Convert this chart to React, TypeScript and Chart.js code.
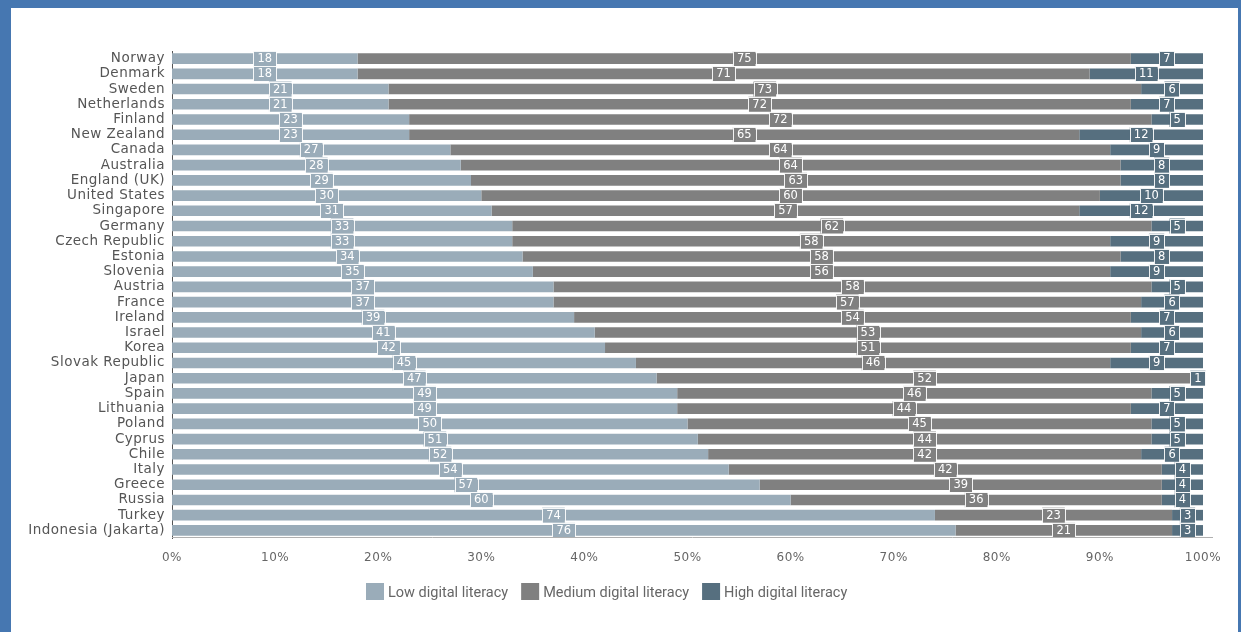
import React, { useEffect, useRef } from "react";
import { Chart, registerables } from "chart.js";

Chart.register(...registerables);

const countries = [
  "Norway", "Denmark", "Sweden", "Netherlands", "Finland", "New Zealand", "Canada",
  "Australia", "England (UK)", "United States", "Singapore", "Germany", "Czech Republic",
  "Estonia", "Slovenia", "Austria", "France", "Ireland", "Israel", "Korea", "Slovak Republic",
  "Japan", "Spain", "Lithuania", "Poland", "Cyprus", "Chile", "Italy", "Greece", "Russia",
  "Turkey", "Indonesia (Jakarta)",
];

const lowLiteracy = [18, 18, 21, 21, 23, 23, 27, 28, 29, 30, 31, 33, 33, 34, 35, 37, 37, 39, 41, 42, 45, 47, 49, 49, 50, 51, 52, 54, 57, 60, 74, 76];
const mediumLiteracy = [75, 71, 73, 72, 72, 65, 64, 64, 63, 60, 57, 62, 58, 58, 56, 58, 57, 54, 53, 51, 46, 52, 46, 44, 45, 44, 42, 42, 39, 36, 23, 21];
const highLiteracy = [7, 11, 6, 7, 5, 12, 9, 8, 8, 10, 12, 5, 9, 8, 9, 5, 6, 7, 6, 7, 9, 1, 5, 7, 5, 5, 6, 4, 4, 4, 3, 3];

const seriesNames = ["Low digital literacy", "Medium digital literacy", "High digital literacy"];
const seriesColors = ["#9aacb9", "#808080", "#566f7f"];

const FONT = "'DejaVu Sans', sans-serif";
const LEGEND_FONT = "Roboto, 'Noto Sans', sans-serif";

// Wider letter spacing for the axis text, switched off again before the bars
const axisTextSpacing = {
  id: "axisTextSpacing",
  beforeDraw(chart: any) {
    chart.ctx.letterSpacing = "0.5px";
  },
  beforeDatasetsDraw(chart: any) {
    chart.ctx.letterSpacing = "0px";
  },
};

// Boxed value labels centred on each segment
const segmentLabels = {
  id: "segmentLabels",
  afterDatasetsDraw(chart: any) {
    const ctx = chart.ctx;
    ctx.save();
    ctx.letterSpacing = "0px";
    ctx.font = `11.5px ${FONT}`;
    ctx.textAlign = "center";
    ctx.textBaseline = "middle";
    chart.data.datasets.forEach((ds: any, di: number) => {
      const meta = chart.getDatasetMeta(di);
      meta.data.forEach((bar: any, i: number) => {
        const v = ds.data[i];
        if (!v) return;
        const cx = (bar.x + bar.base) / 2;
        const cy = bar.y;
        const text = String(v);
        const w = ctx.measureText(text).width + 8;
        const h = 15;
        ctx.fillStyle = ds.backgroundColor;
        ctx.fillRect(cx - w / 2, cy - h / 2, w, h);
        ctx.strokeStyle = "rgba(255,255,255,0.9)";
        ctx.lineWidth = 1;
        ctx.strokeRect(Math.round(cx - w / 2) + 0.5, Math.round(cy - h / 2) + 0.5, Math.round(w), h);
        ctx.fillStyle = "#ffffff";
        ctx.fillText(text, cx, cy + 0.5);
      });
    });
    ctx.restore();
  },
};

// Baseline under the bars and the legend row
const axisAndLegend = {
  id: "axisAndLegend",
  afterDraw(chart: any) {
    const ctx = chart.ctx;
    const area = chart.chartArea;
    ctx.save();
    ctx.letterSpacing = "0px";
    ctx.strokeStyle = "#b0b0b0";
    ctx.lineWidth = 1;
    ctx.beginPath();
    ctx.moveTo(area.left, Math.round(area.bottom) - 0.5);
    ctx.lineTo(area.right + 10, Math.round(area.bottom) - 0.5);
    ctx.stroke();

    ctx.font = `14.5px ${LEGEND_FONT}`;
    ctx.textBaseline = "middle";
    ctx.textAlign = "left";
    const y = 592;
    let x = 366;
    seriesNames.forEach((name, i) => {
      ctx.fillStyle = seriesColors[i];
      ctx.fillRect(x, y - 9, 18, 17);
      ctx.fillStyle = "#666666";
      ctx.fillText(name, x + 22, y + 1);
      x += 22 + ctx.measureText(name).width + 13;
    });
    ctx.restore();
  },
};

export default function App() {
  const canvasRef = useRef<HTMLCanvasElement | null>(null);

  useEffect(() => {
    if (!canvasRef.current) return;
    const chart = new Chart(canvasRef.current, {
      type: "bar",
      data: {
        labels: countries,
        datasets: [lowLiteracy, mediumLiteracy, highLiteracy].map((d, i) => ({
          label: seriesNames[i],
          data: d,
          backgroundColor: seriesColors[i],
          borderWidth: 0,
          categoryPercentage: 1,
          barPercentage: 0.7,
        })),
      },
      options: {
        indexAxis: "y",
        animation: false,
        responsive: false,
        maintainAspectRatio: false,
        layout: { padding: { left: 0, right: 38, top: 51, bottom: 64 } },
        plugins: {
          legend: { display: false },
          tooltip: { enabled: false },
        },
        scales: {
          x: {
            stacked: true,
            min: 0,
            max: 100,
            grid: { display: false, drawTicks: false },
            border: { display: false },
            ticks: {
              stepSize: 10,
              padding: 13,
              color: "#666666",
              font: { family: FONT, size: 12 },
              callback: (v: any) => `${v}%`,
            },
            afterFit: (s: any) => { s.height = 30; },
          },
          y: {
            stacked: true,
            grid: { display: false, drawTicks: false },
            border: { display: true, color: "#555555", width: 1 },
            ticks: {
              padding: 7,
              color: "#555555",
              font: { family: FONT, size: 13.5 },
              autoSkip: false,
            },
            afterFit: (s: any) => { s.width = 172; },
          },
        },
      },
      plugins: [axisTextSpacing, segmentLabels, axisAndLegend],
    });
    return () => chart.destroy();
  }, []);

  return (
    <div style={{ position: "absolute", left: 0, top: 0, width: 1241, height: 632, background: "#4677b1" }}>
      <div style={{ position: "absolute", left: 11, top: 8, right: 3, bottom: 0, background: "#ffffff" }} />
      <canvas ref={canvasRef} width={1241} height={632} style={{ position: "absolute", left: 0, top: 0 }} />
    </div>
  );
}
